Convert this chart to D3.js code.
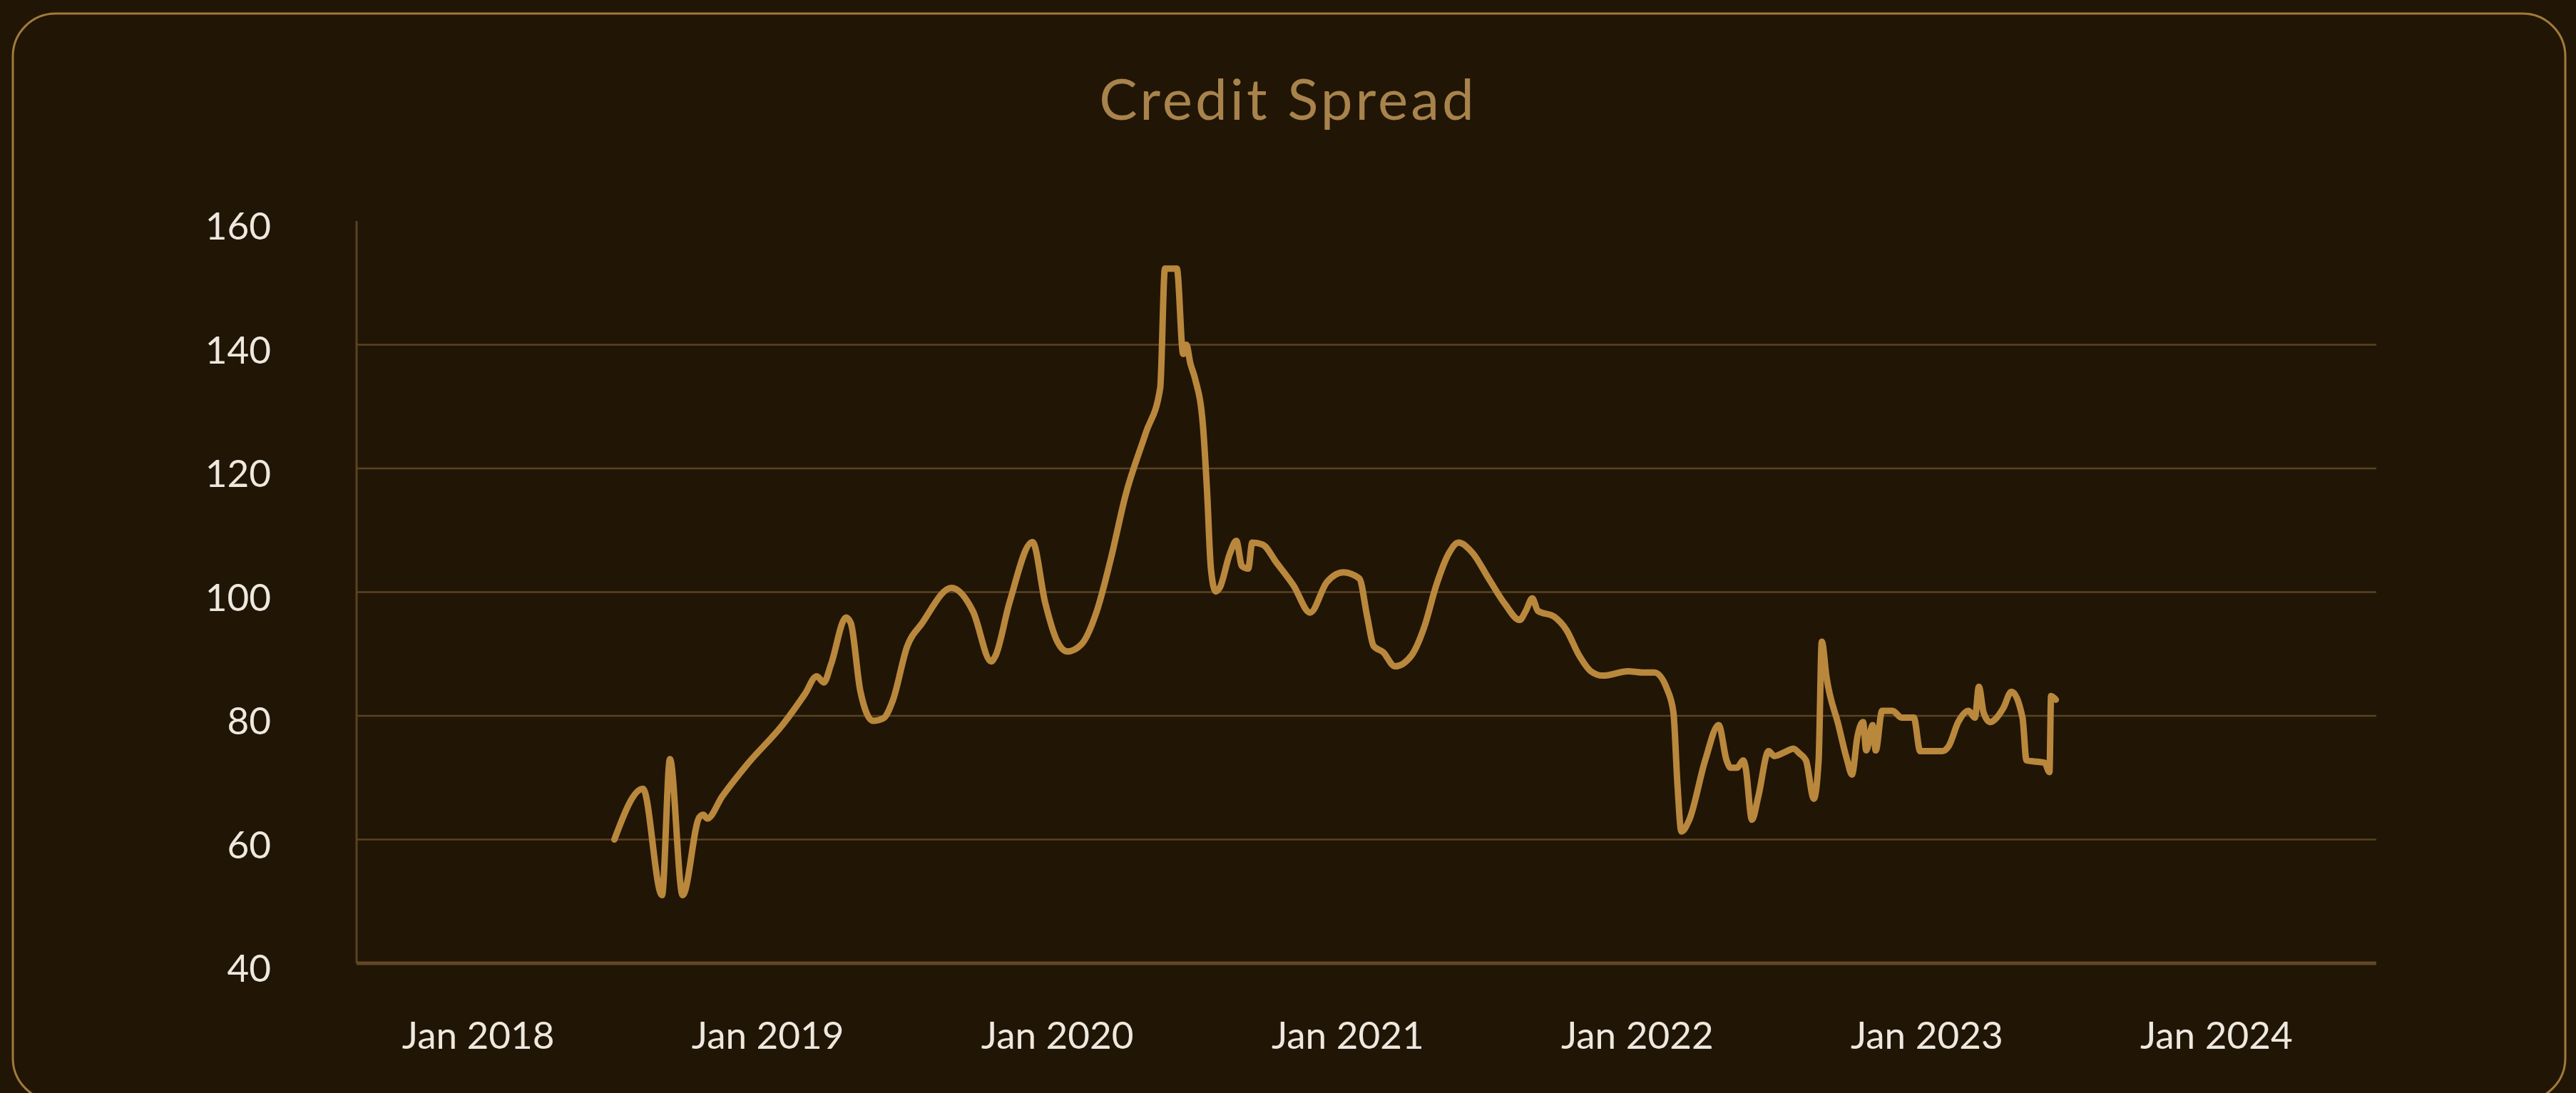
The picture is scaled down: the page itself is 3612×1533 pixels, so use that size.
<!DOCTYPE html>
<html>
<head>
<meta charset="utf-8">
<script src="https://cdn.jsdelivr.net/npm/d3@7"></script>
<style>
  html, body { margin: 0; padding: 0; background: #211505; }
  svg { display: block; }
</style>
</head>
<body>
<svg id="chart" width="3612" height="1533"></svg>
<script>
// ---- data ----
const title = "Credit Spread";
const dates = [
  "2018-06-22","2018-07-28","2018-08-21","2018-08-31","2018-09-16","2018-10-07","2018-10-12","2018-10-17",
  "2018-11-05","2018-12-06","2019-01-21","2019-02-17","2019-03-04","2019-03-13","2019-03-22","2019-04-10",
  "2019-04-16","2019-04-28","2019-05-14","2019-05-27","2019-06-08","2019-06-26","2019-07-15","2019-08-21",
  "2019-09-17","2019-10-10","2019-10-15","2019-11-02","2019-12-01","2019-12-17","2020-01-01","2020-01-14",
  "2020-02-01","2020-02-20","2020-03-09","2020-03-27","2020-04-22","2020-05-10","2020-05-16","2020-05-31",
  "2020-06-08","2020-06-12","2020-06-17","2020-06-23","2020-07-03","2020-07-08","2020-07-13","2020-07-19",
  "2020-07-24","2020-08-06","2020-08-14","2020-08-21","2020-08-29","2020-09-03","2020-09-16","2020-10-04",
  "2020-10-25","2020-11-15","2020-12-06","2020-12-27","2021-01-16","2021-01-26","2021-02-03","2021-02-15",
  "2021-03-02","2021-03-23","2021-04-08","2021-04-23","2021-05-09","2021-05-21","2021-06-08","2021-06-28",
  "2021-07-19","2021-08-06","2021-08-14","2021-08-22","2021-08-29","2021-09-19","2021-10-04","2021-10-20",
  "2021-11-04","2021-11-19","2021-12-21","2022-01-11","2022-01-23","2022-02-08","2022-02-16","2022-02-21",
  "2022-02-26","2022-03-08","2022-03-28","2022-04-14","2022-04-24","2022-04-29","2022-05-07","2022-05-15",
  "2022-05-18","2022-05-26","2022-06-03","2022-06-16","2022-06-23","2022-07-09","2022-07-17","2022-07-25",
  "2022-08-02","2022-08-12","2022-08-18","2022-08-22","2022-08-28","2022-09-12","2022-09-23","2022-09-29",
  "2022-10-06","2022-10-13","2022-10-17","2022-10-25","2022-10-29","2022-11-06","2022-11-19","2022-12-01",
  "2022-12-16","2022-12-24","2023-01-21","2023-01-29","2023-02-10","2023-02-23","2023-03-03","2023-03-08",
  "2023-03-14","2023-03-22","2023-04-08","2023-04-18","2023-05-02","2023-05-07","2023-05-30","2023-06-05",
  "2023-06-07","2023-06-13"
];
const spread = [
  60, 68.2, 51, 73, 51, 63.6, 64, 63.4,
  67, 72.1, 78.7, 83.5, 86.4, 85.4, 88.3, 95.9,
  95, 84, 79.2, 79.6, 82.5, 91.2, 95, 100.7,
  96.9, 88.8, 89.6, 98.3, 108.1, 98.3, 92.1, 90.4,
  91.6, 96.9, 105.5, 115.5, 125.8, 133, 152.3, 152.3,
  138.5, 140, 137, 134.5, 126.8, 116.5, 103.7, 100.1,
  100.7, 106.3, 108.3, 104.2, 103.8, 108, 107.7, 104.7,
  101.1, 96.7, 101.6, 103.2, 102.2, 96, 91.3, 90.3,
  88, 89.8, 94.4, 101.1, 106.3, 108, 106.3, 102.2,
  98, 95.5, 97, 99, 97, 96, 93.9, 89.8,
  87.2, 86.5, 87.2, 87, 87, 84.3, 80.5, 69,
  61.3, 63.2, 72.8, 78.5, 72.8, 71.6, 71.6, 72.8,
  71.6, 63.2, 67, 74.3, 73.5, 74.3, 74.7, 73.9,
  72.8, 66.6, 72.8, 92, 86.2, 78.5, 72.8, 70.5,
  76.7, 79, 74.4, 78.5, 74.4, 80.8, 80.8, 79.7,
  79.7, 74.3, 74.3, 75.1, 79, 80.8, 79.7, 84.7,
  80.5, 79, 81.3, 83.9, 79.7, 72.8, 72.4, 70.9,
  83.2, 82.6
];
const yTicks = [40, 60, 80, 100, 120, 140, 160];
const xDomain = ["2017-08-01", "2024-07-21"];
const yDomain = [40, 160];

// ---- layout ----
const W = 3612, H = 1533;
const plot = { left: 500, right: 3332, top: 310, bottom: 1351 };
const parse = d3.utcParse("%Y-%m-%d");
const data = dates.map((d, i) => ({ date: parse(d), value: spread[i] }));

const svg = d3.select("#chart");

// card
svg.append("rect")
  .attr("x", 18).attr("y", 19)
  .attr("width", 3579).attr("height", 1525)
  .attr("rx", 60).attr("ry", 60)
  .attr("fill", "#211505")
  .attr("stroke", "#a27a3a")
  .attr("stroke-width", 3);

// title
svg.append("text")
  .attr("x", W / 2).attr("y", 168)
  .attr("text-anchor", "middle")
  .attr("font-family", "Lato, 'Open Sans', sans-serif")
  .attr("font-size", 80)
  .attr("fill", "#a8834c")
  .attr("letter-spacing", 4)
  .text(title);

const x = d3.scaleUtc().domain(xDomain.map(parse)).range([plot.left, plot.right]);
const y = d3.scaleLinear().domain(yDomain).range([plot.bottom, plot.top]);

// gridlines
svg.append("g").selectAll("line")
  .data(yTicks.filter(t => t > yDomain[0] && t < yDomain[1]))
  .join("line")
  .attr("x1", plot.left).attr("x2", plot.right)
  .attr("y1", d => y(d)).attr("y2", d => y(d))
  .attr("stroke", "#5a4322")
  .attr("stroke-width", 2.5);

// axis lines
svg.append("line")
  .attr("x1", plot.left).attr("x2", plot.left)
  .attr("y1", y(yDomain[1])).attr("y2", y(yDomain[0]))
  .attr("stroke", "#5a4322").attr("stroke-width", 3);
svg.append("line")
  .attr("x1", plot.left).attr("x2", plot.right)
  .attr("y1", y(yDomain[0])).attr("y2", y(yDomain[0]))
  .attr("stroke", "#624825").attr("stroke-width", 5);

// y axis labels
const yAxis = d3.axisLeft(y).tickValues(yTicks).tickSize(0).tickPadding(120);
const gy = svg.append("g").attr("transform", `translate(${plot.left},0)`).call(yAxis);
gy.select(".domain").remove();
gy.selectAll("text")
  .attr("font-family", "Lato, 'Open Sans', sans-serif")
  .attr("font-size", 53)
  .attr("fill", "#eee8de")
  .attr("dy", "0.49em");

// x axis labels
const xAxis = d3.axisBottom(x)
  .ticks(d3.utcYear.every(1))
  .tickFormat(d3.utcFormat("Jan %Y"))
  .tickSize(0).tickPadding(82);
const gx = svg.append("g").attr("transform", `translate(0,${plot.bottom})`).call(xAxis);
gx.select(".domain").remove();
gx.selectAll("text")
  .attr("font-family", "Lato, 'Open Sans', sans-serif")
  .attr("font-size", 53)
  .attr("fill", "#eee8de");

// line
const line = d3.line()
  .x(d => x(d.date))
  .y(d => y(d.value))
  .curve(d3.curveMonotoneX);
svg.append("path")
  .datum(data)
  .attr("d", line)
  .attr("fill", "none")
  .attr("stroke", "#b9883d")
  .attr("stroke-width", 9)
  .attr("stroke-linejoin", "round")
  .attr("stroke-linecap", "round");
</script>
</body>
</html>
